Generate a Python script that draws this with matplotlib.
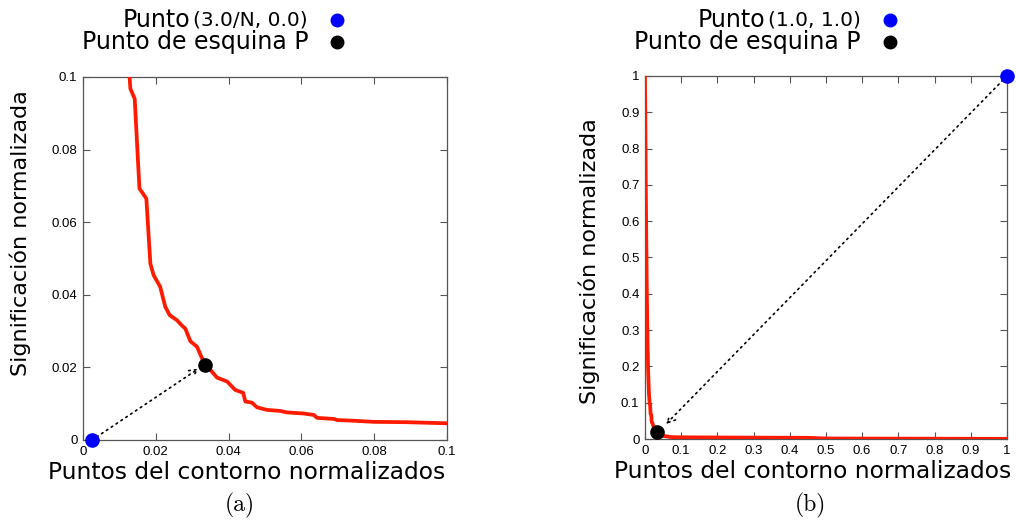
import numpy as np
import matplotlib
matplotlib.use("Agg")
import matplotlib.pyplot as plt

# curve (normalised contour points vs normalised significance)
curve_x = [0.0, 0.001, 0.002, 0.003, 0.005, 0.007, 0.009, 0.011, 0.0128, 0.0130, 0.0142,
           0.0155, 0.0174, 0.0185, 0.0194, 0.0212, 0.0226, 0.0238, 0.0258, 0.0272, 0.0281,
           0.0295, 0.0313, 0.0327, 0.0336, 0.0350, 0.0368, 0.0396, 0.0418, 0.0440, 0.0446,
           0.0464, 0.0478, 0.0505, 0.0542, 0.0560, 0.0606, 0.0634, 0.0643, 0.0689, 0.0698,
           0.0744, 0.0799, 0.0890, 0.1000, 0.15, 0.25, 0.35, 0.45, 0.50, 0.60, 0.80, 1.0]
curve_y = [1.0, 0.88, 0.74, 0.62, 0.42, 0.27, 0.18, 0.125, 0.100, 0.0968, 0.0940,
           0.0693, 0.0665, 0.0486, 0.0454, 0.0422, 0.0367, 0.0344, 0.0330, 0.0315, 0.0307,
           0.0272, 0.0257, 0.0225, 0.0206, 0.0193, 0.0172, 0.0161, 0.0138, 0.0130, 0.0106,
           0.0103, 0.0090, 0.0083, 0.0080, 0.0076, 0.0073, 0.0069, 0.0061, 0.0058, 0.0055,
           0.0053, 0.0050, 0.0049, 0.0046, 0.0044, 0.0040, 0.0036, 0.0033, 0.0015, 0.0012, 0.0008, 0.0005]

corner = (0.0336, 0.0206)
ref_a = (0.0025, 0.0)      # 3.0/N
ref_b = (1.0, 1.0)
arrow_tip_a = (0.0318, 0.0197)
arrow_tip_b = (0.058, 0.041)

ticks_a = [0, 0.02, 0.04, 0.06, 0.08, 0.1]
ticklabels_a = ["0", "0.02", "0.04", "0.06", "0.08", "0.1"]
ticks_b = [0, 0.1, 0.2, 0.3, 0.4, 0.5, 0.6, 0.7, 0.8, 0.9, 1.0]
ticklabels_b = ["0", "0.1", "0.2", "0.3", "0.4", "0.5", "0.6", "0.7", "0.8", "0.9", "1"]

xlabel = "Puntos del contorno normalizados"
ylabel = "Significación normalizada"

RED = "#ff1a00"
BLUE = "#0000ff"

fig = plt.figure(figsize=(10.16, 5.23), dpi=100)
ax_a = fig.add_axes([0.0817, 0.1587, 0.3583, 0.6941])
ax_b = fig.add_axes([0.6348, 0.1606, 0.3563, 0.6941])

def style(ax, ticks, labels, lim, xl_pos, yl_pos):
    ax.set_xlim(*lim); ax.set_ylim(*lim)
    ax.set_xticks(ticks); ax.set_yticks(ticks)
    ax.set_xticklabels(labels, fontsize=9.5, family="Liberation Sans")
    ax.set_yticklabels(labels, fontsize=9.5, family="Liberation Sans")
    ax.tick_params(direction="in", length=5, width=0.8, color="#555",
                   top=True, right=True, pad=4)
    for s in ax.spines.values():
        s.set_color("#555"); s.set_linewidth(0.9)
    ax.set_xlabel(xlabel, fontsize=16.8)
    ax.set_ylabel(ylabel, fontsize=16)
    ax.xaxis.set_label_coords(*xl_pos)
    ax.yaxis.set_label_coords(*yl_pos)

def panel(ax, ref, tip, ticks, labels, lim, xl_pos, yl_pos):
    ax.plot(curve_x, curve_y, color=RED, lw=2.7, zorder=3)
    ax.annotate("", xy=tip, xytext=ref,
                arrowprops=dict(arrowstyle="->", ls=(0, (1, 2.5)), lw=1.2, color="black",
                                shrinkA=4, shrinkB=0, mutation_scale=14))
    ax.plot([ref[0]], [ref[1]], "o", color=BLUE, ms=9.5, clip_on=False, zorder=5)
    ax.plot([corner[0]], [corner[1]], "o", color="black", ms=9.5, clip_on=False, zorder=5)
    style(ax, ticks, labels, lim, xl_pos, yl_pos)

panel(ax_a, ref_a, arrow_tip_a, ticks_a, ticklabels_a, (0, 0.1), (0.45, -0.058), (-0.143, 0.57))
panel(ax_b, ref_b, arrow_tip_b, ticks_b, ticklabels_b, (0, 1), (0.464, -0.058), (-0.125, 0.49))

def legend(x_end, x_dot, txt_paren):
    t = fig.text(x_end / 1016, 1 - 20 / 523, txt_paren, fontsize=14.5, ha="right", va="center")
    fig.canvas.draw()
    bb = t.get_window_extent()
    fig.text((bb.x0 - 3) / 1016, 1 - 20 / 523, "Punto", fontsize=17, ha="right", va="center")
    fig.text(x_end / 1016, 1 - 42 / 523, "Punto de esquina P", fontsize=17, ha="right", va="center")
    fig.lines.append(plt.Line2D([x_dot / 1016], [1 - 20 / 523], marker="o", color=BLUE,
                                ms=9, transform=fig.transFigure))
    fig.lines.append(plt.Line2D([x_dot / 1016], [1 - 42 / 523], marker="o", color="black",
                                ms=9, transform=fig.transFigure))

legend(308, 337, "(3.0/N, 0.0)")
legend(861, 890, "(1.0, 1.0)")

fig.text(240 / 1016, 1 - 505 / 523, "(a)", fontsize=17, family="cmr10", ha="center", va="center")
fig.text(810 / 1016, 1 - 505 / 523, "(b)", fontsize=17, family="cmr10", ha="center", va="center")

fig.savefig("out.png", dpi=100)
